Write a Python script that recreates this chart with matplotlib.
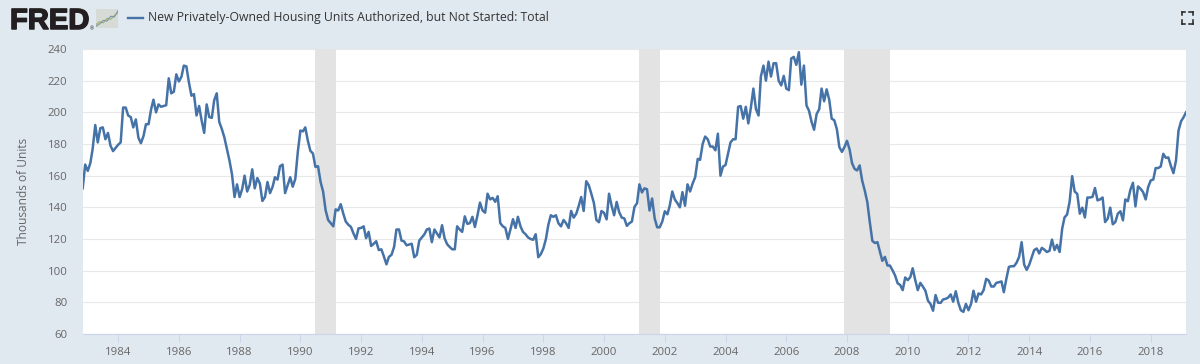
import pandas as pd
import matplotlib
matplotlib.use('Agg')
import matplotlib.pyplot as plt
import matplotlib.dates as mdates
import matplotlib.patheffects as pe

plt.rcParams['font.family'] = ['Open Sans', 'DejaVu Sans']

# monthly, Nov 1982 to Mar 2019
tail_1982 = [152, 167]
units = [
    163, 168, 177, 192, 181, 190, 190.5, 183, 187, 179, 175.5, 177.5,  # 1983
    179.5, 181, 203, 203, 198, 197, 190.5, 195.5, 184, 180.5, 185, 192.5,  # 1984
    192.5, 202, 208, 200, 205, 203.5, 204, 204.5, 221.5, 212, 213, 224,  # 1985
    219.5, 222.5, 229.5, 229, 219, 210.5, 211.5, 198, 204, 195, 187, 205,  # 1986
    197, 196.5, 207.5, 212, 194, 189.5, 184.3, 177, 169.6, 161, 146.5, 154.5,  # 1987
    146.5, 151.6, 160, 150, 154, 164, 152, 158.5, 155, 144, 146.5, 156,  # 1988
    149, 153, 159, 157.5, 166, 167, 149, 154, 159, 153, 158, 175,  # 1989
    188.5, 188, 190.5, 182, 175.7, 174, 165.5, 166, 156, 150, 138, 132,  # 1990
    130, 128, 138.7, 138, 142, 136, 131, 129, 127.6, 123.6, 120, 126.7,  # 1991
    127, 128, 120.5, 124.5, 115.6, 117, 118.6, 113, 113.5, 109, 104, 108.7,  # 1992
    110, 115, 126, 126, 119, 118.5, 116, 116.5, 117, 108.5, 110, 119,  # 1993
    121, 123, 126, 126.6, 118, 126, 123.5, 121, 128.7, 120.5, 116.7, 115,  # 1994
    113.5, 113.5, 128, 126, 124.5, 134.3, 129.6, 130, 134, 127.6, 135, 143,  # 1995
    138, 136.6, 148.6, 145, 146, 143.5, 147, 130, 128, 127, 120, 126,  # 1996
    132.5, 127, 134, 128, 124.5, 123, 121, 120, 119.5, 123, 108.5, 110.4,  # 1997
    114, 120, 128.7, 135, 134, 135, 130, 128, 132, 130, 127, 137.7,  # 1998
    133.5, 136, 140.6, 146.5, 137.7, 156.5, 154, 148.6, 142.7, 132, 130.6, 137.7,  # 1999
    136.5, 132.4, 148.6, 141, 135, 143.4, 137, 133.5, 133, 128.3, 130, 131,  # 2000
    140.3, 142.6, 154.5, 149.4, 152, 151.4, 138, 145.6, 133, 127.4, 127.4, 131,  # 2001
    137.5, 135.6, 141, 150, 145, 142.6, 140, 149.6, 141, 154.5, 150, 155,  # 2002
    159, 170.6, 170, 180, 184.7, 183, 178.4, 178.4, 176, 186.5, 160, 165.7,  # 2003
    166.7, 174, 181, 183, 183, 203.5, 204, 196, 203.5, 193, 203, 215,  # 2004
    202, 198, 222.6, 229.5, 220, 232, 222.6, 231, 231, 220, 217, 223,  # 2005
    215, 214, 234, 235, 230, 238, 217.5, 229.5, 204.3, 201, 194, 189,  # 2006
    199, 202, 215, 207, 214.5, 208, 196, 195, 189.4, 178, 175, 178,  # 2007
    182, 176.6, 168, 164.3, 163.3, 166.5, 157, 150.7, 143.4, 130.7, 118.8, 117.5,  # 2008
    118, 111.9, 106.2, 108.7, 103.3, 103.2, 100.3, 97, 92, 91, 87.7, 95.7,  # 2009
    94, 96, 101.5, 94, 87.7, 92.3, 90, 87.3, 81, 79, 74.7, 84.6,  # 2010
    79.7, 79.7, 81.8, 82.2, 83, 85, 80.4, 87, 79.7, 75, 74, 79,  # 2011
    75, 79, 87.3, 80.4, 85.6, 85, 87.7, 94.8, 93.7, 90, 90, 92.3,  # 2012
    92.7, 93.2, 86.4, 95, 102.4, 102.8, 102.8, 105, 108.7, 118, 103.8, 100.5,  # 2013
    103.8, 108.7, 113, 114, 110.9, 114.4, 113.3, 111.8, 112.5, 119.6, 113, 116.3,  # 2014
    111.8, 126.6, 133.6, 135.5, 143.4, 159.7, 150, 148.5, 136, 139.8, 133.6, 146.2,  # 2015
    146.2, 146.6, 152.2, 144.4, 145, 146.2, 130.7, 132.8, 139.8, 129.3, 130.7, 136,  # 2016
    137.5, 131.8, 145, 143.9, 151.1, 155.5, 140.6, 153.2, 151.7, 149.6, 145, 152.8,  # 2017
    157, 157.6, 164.8, 164.8, 165.8, 173.8, 171.3, 171.5, 166, 161.6, 169.6, 188.5,  # 2018
    194.4, 197, 200,  # 2019
]
units = tail_1982 + units
dates = pd.date_range('1982-11-01', periods=len(units), freq='MS')

rec_start = ['1990-07-01', '2001-03-01', '2007-12-01']
rec_end = ['1991-03-01', '2001-11-01', '2009-06-01']
y_ticks = [60, 80, 100, 120, 140, 160, 180, 200, 220, 240]
x_years = list(range(1984, 2020, 2))

title = 'New Privately-Owned Housing Units Authorized, but Not Started: Total'

# logo thumbnail lines
icon_x = [0, 1, 2, 3, 4, 5, 6]
icon_green = [1.0, 1.8, 1.5, 2.8, 2.5, 3.6, 4.4]
icon_blue = [0.5, 1.2, 2.2, 2.0, 3.4, 3.2, 5.0]

W, H = 1200, 364
bg = '#e1e9f0'
txt = '#666666'

fig = plt.figure(figsize=(W / 100, H / 100), dpi=100, facecolor=bg)
ax = fig.add_axes([82.7 / W, 1 - 334 / H, (1186 - 82.7) / W, (334 - 49) / H])
ax.set_facecolor('white')

for s, e in zip(rec_start, rec_end):
    ax.axvspan(pd.Timestamp(s), pd.Timestamp(e), color='#e3e3e3', lw=0, zorder=1.5)

ax.plot(dates, units, color='#4572a7', lw=1.8, zorder=3, solid_joinstyle='round')

ax.set_xlim(dates[0], dates[-1])
ax.set_ylim(60, 240)
ax.set_yticks(y_ticks)
ax.set_xticks([pd.Timestamp(str(y) + '-01-01') for y in x_years])
ax.xaxis.set_major_formatter(mdates.DateFormatter('%Y'))
ax.grid(axis='y', color='#e8e8e8', lw=0.8)
ax.set_axisbelow(True)
for k in ['top', 'left', 'right']:
    ax.spines[k].set_visible(False)
ax.spines['bottom'].set_color('#ccd6eb')
ax.spines['bottom'].set_linewidth(0.9)
ax.tick_params(axis='y', length=0, pad=11, labelsize=8.2, labelcolor=txt)
ax.tick_params(axis='x', length=5.5, width=0.7, color='#ccd6eb', pad=4, labelsize=8.2, labelcolor=txt)
for t in ax.get_yticklabels() + ax.get_xticklabels():
    t.set_clip_on(False)

fig.text(24 / W, 1 - 191 / H, 'Thousands of Units', rotation=90, color=txt, fontsize=8.6,
         ha='center', va='center')

# header
logo = fig.text(10 / W, 1 - 29 / H, 'FRED', family='Liberation Sans', weight='bold', fontsize=21,
                color='#231f20', ha='left', va='baseline')
logo.set_path_effects([pe.withStroke(linewidth=1.1, foreground='#231f20')])
fig.text(89.5 / W, 1 - 30 / H, '®', fontsize=3.5, color='#231f20', ha='left', va='baseline')
fig.add_artist(plt.Line2D([128 / W, 143 / W], [1 - 18 / H, 1 - 18 / H], color='#4572a7', lw=1.7))
fig.text(148 / W, 1 - 18 / H, title, fontsize=8.87, color='#333333', ha='left', va='center')

icon = fig.add_axes([96 / W, 1 - 28 / H, 22 / W, 19 / H])
icon.set_facecolor('#d6dbd6')
icon.plot(icon_x, icon_green, color='#9db26c', lw=0.8)
icon.plot(icon_x, icon_blue, color='#7f93a8', lw=0.8)
icon.set_xlim(0, 6)
icon.set_ylim(0, 5.5)
icon.set_xticks([])
icon.set_yticks([])
for k in icon.spines:
    icon.spines[k].set_visible(False)

# fullscreen button corners
for cx, dx in [(1181.5, 3.5), (1192.5, -3.5)]:
    for cy, dy in [(11.5, 3.5), (23.5, -3.5)]:
        fig.add_artist(plt.Line2D([cx / W, (cx + dx) / W], [1 - cy / H, 1 - cy / H], color='#222222', lw=1.1))
        fig.add_artist(plt.Line2D([cx / W, cx / W], [1 - cy / H, 1 - (cy + dy) / H], color='#222222', lw=1.1))

fig.savefig('out.png', dpi=100, facecolor=bg)
